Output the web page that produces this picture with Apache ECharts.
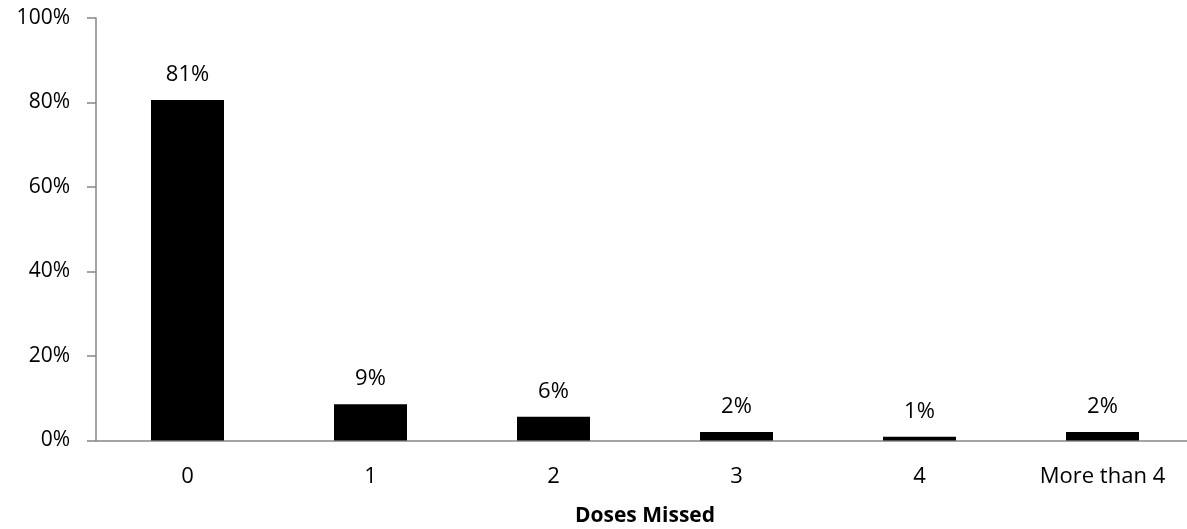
<!DOCTYPE html>
<html>
<head>
<meta charset="utf-8">
<script src="https://cdn.jsdelivr.net/npm/echarts@6/dist/echarts.min.js"></script>
<style>
html,body{margin:0;padding:0;background:#fff;}
#chart{width:1187px;height:529px;}
</style>
</head>
<body>
<div id="chart"></div>
<script>
const categories = ['0', '1', '2', '3', '4', 'More than 4'];
const values = [80.6, 8.6, 5.6, 2.0, 0.9, 2.0];
const yTicks = { min: 0, max: 100, interval: 20 };
const xTitle = 'Doses Missed';

const FONT = '"Open Sans", sans-serif';
const chart = echarts.init(document.getElementById('chart'), null, { renderer: 'canvas' });
chart.setOption({
  animation: false,
  backgroundColor: '#ffffff',
  grid: { left: 96, top: 18, width: 1098, height: 422.5, containLabel: false, outerBoundsMode: 'none' },
  xAxis: {
    type: 'category',
    data: categories,
    axisLine: { show: true, lineStyle: { color: '#868686', width: 1.5 } },
    axisTick: { show: false },
    axisLabel: { color: '#000', fontFamily: FONT, fontSize: 22, margin: 25 },
    name: xTitle,
    nameLocation: 'middle',
    nameGap: 65,
    nameTextStyle: { color: '#000', fontFamily: FONT, fontSize: 21, fontWeight: 'bold' }
  },
  yAxis: {
    type: 'value',
    min: yTicks.min, max: yTicks.max, interval: yTicks.interval,
    axisLine: { show: true, lineStyle: { color: '#868686', width: 1.5 } },
    axisTick: { show: true, inside: false, length: 9, lineStyle: { color: '#868686', width: 1.5 } },
    splitLine: { show: false },
    axisLabel: { color: '#000', fontFamily: FONT, fontSize: 21, margin: 26, formatter: '{value}%' }
  },
  series: [{
    type: 'bar',
    data: values,
    barWidth: 73,
    itemStyle: { color: '#000000' },
    label: {
      show: true, position: 'top', distance: 14,
      color: '#000', fontFamily: FONT, fontSize: 22,
      formatter: p => Math.round(p.value) + '%'
    }
  }]
});
</script>
</body>
</html>
